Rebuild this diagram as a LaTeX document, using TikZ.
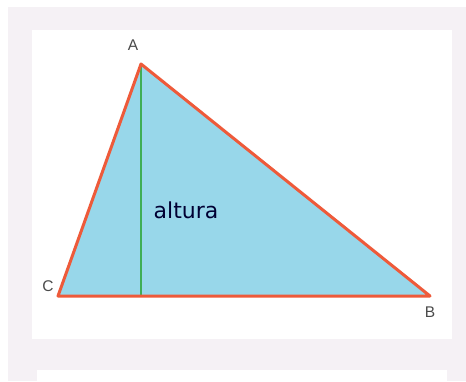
\documentclass[tikz,border=0pt]{standalone}
\usepackage{fontspec}
\setmainfont{Liberation Sans}
\newfontfamily\altfont{DejaVu Sans}
\definecolor{pagegray}{HTML}{F5F1F5}
\definecolor{trifill}{HTML}{98D7EA}
\definecolor{edgered}{HTML}{EE5A3A}
\definecolor{altgreen}{HTML}{3FAE55}
\definecolor{labgray}{HTML}{4A4A4A}
\tikzset{
  edge/.style={draw=edgered, line width=3pt, line join=round, line cap=round},
  altline/.style={draw=altgreen, line width=1.4pt},
  vlabel/.style={text=labgray, font=\fontsize{15.5}{15.5}\selectfont, inner sep=0pt},
}
\begin{document}
\begin{tikzpicture}[x=1pt,y=-1pt]
\useasboundingbox (0,0) rectangle (466,381);
\fill[white] (0,0) rectangle (466,381);
\fill[pagegray] (8,7) rectangle (466,381);
\fill[white] (32,30) rectangle (452,339);
\fill[white] (37,370) rectangle (447,381);
\coordinate (A) at (141,64);
\coordinate (B) at (430,296);
\coordinate (C) at (58,296);
\coordinate (D) at (141,296);
\fill[trifill] (A) -- (B) -- (C) -- cycle;
\draw[altline] (A) -- (D);
\draw[edge] (A) -- (B) -- (C) -- cycle;
\node[vlabel] (la) at (133,45) {A};
\node[vlabel] (lb) at (430,312) {B};
\node[vlabel] (lc) at (48,286) {C};
\node[inner sep=0pt, text=black!80!blue, font=\altfont\fontsize{22}{22}\selectfont] (alt) at (186,210) {altura};
\end{tikzpicture}
\end{document}
